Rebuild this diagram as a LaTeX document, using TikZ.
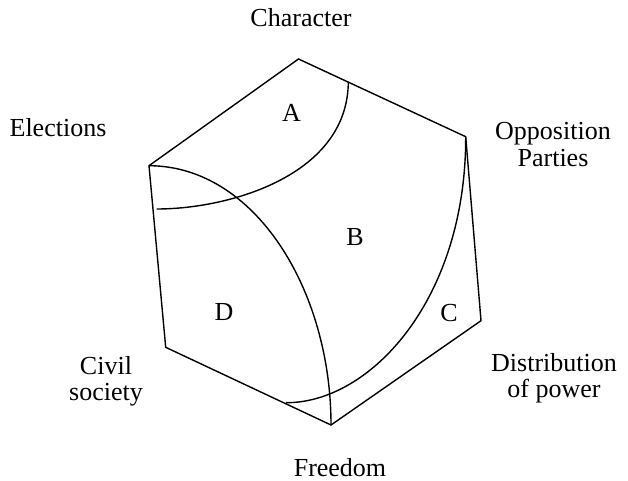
\documentclass[tikz,border=0pt]{standalone}
\usepackage{fontspec}
\setmainfont{Liberation Serif}
\begin{document}
\begin{tikzpicture}[x=1pt,y=-1pt,
  edge/.style={line width=1.4pt,line join=miter},
  arc/.style={line width=1.4pt},
  lab/.style={font=\fontsize{26}{26}\selectfont,inner sep=0pt,anchor=base,align=center},
  reg/.style={font=\fontsize{26}{26}\selectfont,inner sep=0pt,anchor=base}]
\useasboundingbox (0,0) rectangle (628,481);
% hexagon vertices
\coordinate (T) at (298.5,59);
\coordinate (UR) at (465.7,136.7);
\coordinate (LR) at (481,320.7);
\coordinate (Bo) at (331,425);
\coordinate (LL) at (165.7,347.3);
\coordinate (UL) at (149,165.7);
\coordinate (Astart) at (348.3,81.7);
\coordinate (Aend) at (156.7,209);
\coordinate (Cend) at (286,402.7);
\draw[edge] (T) -- (UR) -- (LR) -- (Bo) -- (LL) -- (UL) -- cycle;
% arcs
\draw[arc] (Astart) .. controls (348,175) and (230,209) .. (Aend);
\draw[arc] (UL) .. controls (255,166) and (331,290) .. (Bo);
\draw[arc] (UR) .. controls (466,300) and (370,403) .. (Cend);
% region letters
\node[reg] (rA) at (291.5,122) {A};
\node[reg] (rB) at (355,245) {B};
\node[reg] (rC) at (449,321) {C};
\node[reg] (rD) at (224,320) {D};
% labels (base = baseline of last line)
\node[lab] (character) at (301,27) {Character};
\node[lab] (elections) at (58,137) {Elections};
\node[lab] (opposition) at (553,166) {Opposition\\Parties};
\node[lab] (distribution) at (554,397) {Distribution\\of power};
\node[lab] (civil) at (106,400) {Civil\\society};
\node[lab] (freedom) at (340,476) {Freedom};
\end{tikzpicture}
\end{document}
